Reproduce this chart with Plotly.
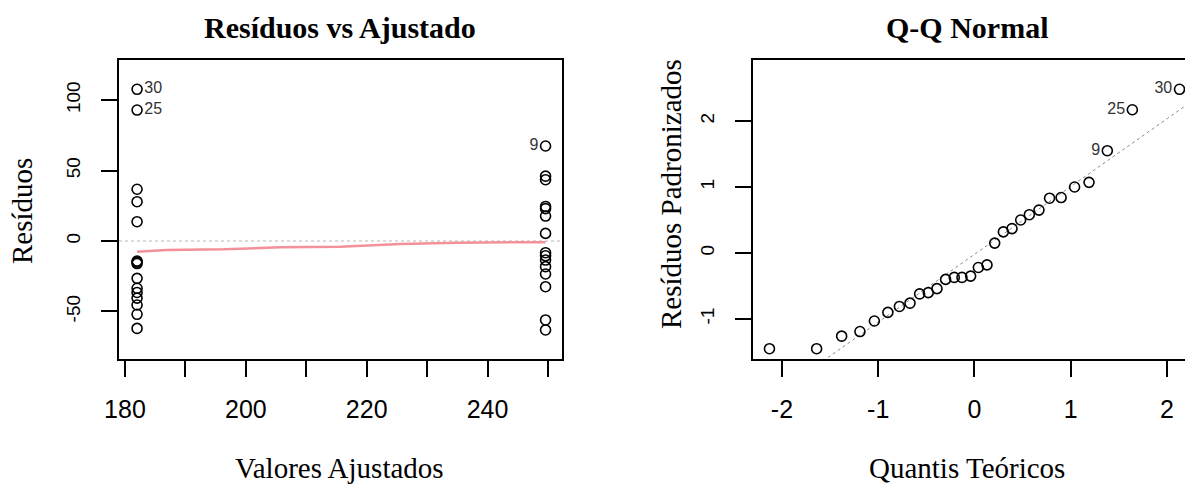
import plotly.graph_objects as go

W, H = 1185, 488

# ---------------- data: Residuals vs Fitted ----------------
fit_low = 182.0
fit_high = 249.6
res_low = [107.6, 92.9, 36.7, 27.9, 13.7, -14.2, -15.0, -16.0, -26.5, -33.5,
           -36.5, -40.5, -45.4, -52.0, -62.0]
res_high = [67.4, 46.0, 43.5, 24.5, 23.0, 17.7, 5.4, -8.3, -10.5, -13.5,
            -18.2, -23.4, -32.4, -56.0, -63.1]
lab_low = ["30", "25"] + [""] * 13
lab_high = ["9"] + [""] * 14

smooth_x = [182.0, 186.9, 196.3, 205.7, 215.6, 225.6, 235.0, 244.7, 249.6]
smooth_y = [-7.6, -6.4, -5.9, -4.5, -4.0, -2.1, -1.2, -0.9, -0.8]

# ---------------- data: Normal Q-Q ----------------
theo_q = [-2.13, -1.64, -1.38, -1.19, -1.04, -0.90, -0.78, -0.67, -0.57, -0.48,
          -0.39, -0.30, -0.21, -0.13, -0.04, 0.04, 0.13, 0.21, 0.30, 0.39,
          0.48, 0.57, 0.67, 0.78, 0.90, 1.04, 1.19, 1.38, 1.64, 2.13]
std_res = [-1.45, -1.45, -1.26, -1.19, -1.03, -0.90, -0.81, -0.76, -0.62, -0.60,
           -0.54, -0.40, -0.37, -0.37, -0.35, -0.22, -0.18, 0.15, 0.32, 0.37,
           0.50, 0.58, 0.65, 0.83, 0.84, 1.00, 1.07, 1.55, 2.17, 2.48]
qq_labels = [""] * 27 + ["9", "25", "30"]
qq_line_intercept = -0.02
qq_line_slope = 1.027
qq_line_x = [-3.0, 3.0]

# tick labels
fit_ticks = [180, 190, 200, 210, 220, 230, 240, 250]
fit_ticktext = ["180", "", "200", "", "220", "", "240", ""]
res_ticks = [-50, 0, 50, 100]
res_ticktext = ["-50", "0", "50", "100"]
qx_ticks = [-2, -1, 0, 1, 2]
qx_ticktext = ["-2", "-1", "0", "1", "2"]
qy_ticks = [-1, 0, 1, 2]
qy_ticktext = ["-1", "0", "1", "2"]

SERIF = "Liberation Serif"
SANS = "Liberation Sans"

def px_x(p):
    return p / W

def px_y(p):
    return 1 - p / H

fig = go.Figure()

marker = dict(symbol="circle-open", size=10, color="black", line=dict(width=1.6, color="black"))
labfont = dict(family=SANS, size=16, color="#333333")

# zero reference line
fig.add_shape(type="line", xref="x domain", yref="y", x0=0, x1=1, y0=0, y1=0,
              line=dict(color="#b5b5b5", width=1, dash="dot"), layer="below")

fig.add_trace(go.Scatter(x=smooth_x, y=smooth_y, mode="lines",
                         line=dict(color="#f4909a", width=2.5),
                         xaxis="x", yaxis="y", hoverinfo="skip"))
fig.add_trace(go.Scatter(x=[fit_low] * len(res_low), y=res_low, mode="markers+text",
                         text=lab_low, textposition="middle right", textfont=labfont,
                         marker=marker, xaxis="x", yaxis="y"))
fig.add_trace(go.Scatter(x=[fit_high] * len(res_high), y=res_high, mode="markers+text",
                         text=lab_high, textposition="middle left", textfont=labfont,
                         marker=marker, xaxis="x", yaxis="y"))

# QQ
fig.add_trace(go.Scatter(x=qq_line_x,
                         y=[qq_line_intercept + qq_line_slope * v for v in qq_line_x],
                         mode="lines", line=dict(color="#8a8a8a", width=1, dash="dot"),
                         xaxis="x2", yaxis="y2", hoverinfo="skip"))
fig.add_trace(go.Scatter(x=theo_q, y=std_res, mode="markers+text",
                         text=qq_labels, textposition="middle left", textfont=labfont,
                         marker=marker, xaxis="x2", yaxis="y2"))

axis_common = dict(showgrid=False, zeroline=False, showline=True, linecolor="black",
                   linewidth=1.5, ticks="outside", ticklen=16, tickwidth=1.5,
                   tickcolor="black", automargin=False)
xtickfont = dict(family=SANS, size=25, color="black")
ytickfont = dict(family=SANS, size=19, color="black")

fig.update_layout(
    width=W, height=H, showlegend=False,
    plot_bgcolor="white", paper_bgcolor="white",
    margin=dict(l=0, r=0, t=0, b=0, autoexpand=False),
    xaxis=dict(axis_common, domain=[px_x(119), px_x(562)], range=[179.01, 252.32],
               tickvals=fit_ticks, ticktext=fit_ticktext, mirror=True,
               tickfont=xtickfont, ticklabelstandoff=11, anchor="y"),
    yaxis=dict(axis_common, domain=[px_y(359), px_y(60)], range=[-83.7, 128.4],
               tickvals=res_ticks, ticktext=res_ticktext, tickangle=-90, mirror=True,
               tickfont=ytickfont, ticklabelstandoff=14, anchor="x"),
    xaxis2=dict(axis_common, domain=[px_x(753), 1.0], range=[-2.301, 2.187],
                tickvals=qx_ticks, ticktext=qx_ticktext, mirror=True,
                tickfont=xtickfont, ticklabelstandoff=11, anchor="y2"),
    yaxis2=dict(axis_common, domain=[px_y(359), px_y(60)], range=[-1.606, 2.924],
                tickvals=qy_ticks, ticktext=qy_ticktext, tickangle=-90, mirror=False,
                tickfont=ytickfont, ticklabelstandoff=14, anchor="x2"),
)

titlefont = dict(family=SERIF, size=30, color="black")
axtitlefont = dict(family=SERIF, size=29, color="black")
ann = [
    dict(text="<b>Resíduos vs Ajustado</b>", x=px_x(340), y=px_y(28), font=titlefont),
    dict(text="<b>Q-Q Normal</b>", x=px_x(967), y=px_y(28), font=titlefont),
    dict(text="Valores Ajustados", x=px_x(339), y=px_y(468), font=axtitlefont),
    dict(text="Quantis Teóricos", x=px_x(967), y=px_y(468), font=axtitlefont),
    dict(text="Resíduos", x=px_x(22), y=px_y(211), font=axtitlefont, textangle=-90),
    dict(text="Resíduos Padronizados", x=px_x(671), y=px_y(194), font=axtitlefont, textangle=-90),
]
for a in ann:
    a.update(xref="paper", yref="paper", showarrow=False, xanchor="center", yanchor="middle")
    fig.add_annotation(**a)

fig.write_html("out.html", config={"displayModeBar": False},
               post_script="document.body.style.margin='0';document.body.style.overflow='hidden';")
